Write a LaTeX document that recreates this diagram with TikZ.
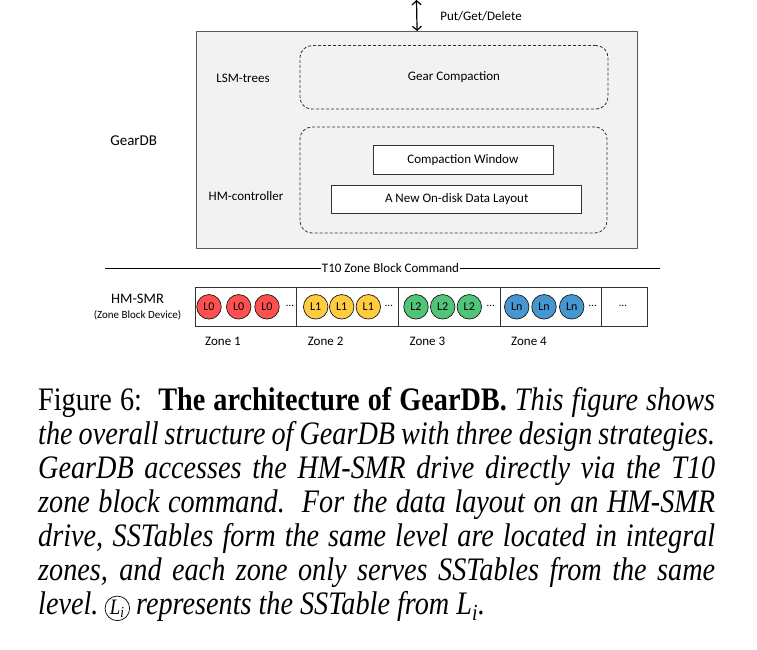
\documentclass[tikz,border=0pt]{standalone}
\usepackage{fontspec}
\setmainfont{Carlito}
\newfontfamily\capfont[FakeStretch=0.86]{Liberation Serif}
\usetikzlibrary{arrows.meta}
\definecolor{redL}{RGB}{255,80,80}
\definecolor{yelL}{RGB}{255,204,64}
\definecolor{grnL}{RGB}{80,196,120}
\definecolor{bluL}{RGB}{70,150,210}
\definecolor{gearfill}{RGB}{242,242,242}
\definecolor{edge}{RGB}{90,90,90}
\begin{document}
\begin{tikzpicture}[x=1pt,y=-1pt,
  lbl/.style={font=\fontsize{13}{15}\selectfont, inner sep=0pt},
  small/.style={font=\fontsize{11}{13}\selectfont, inner sep=0pt},
  dbox/.style={draw=black!80, dash pattern=on 3pt off 2pt, rounded corners=12pt, line width=0.8pt, inner sep=0pt, font=\fontsize{13}{15}\selectfont},
  sbox/.style={draw=black!80, line width=0.8pt, fill=white, inner sep=0pt, font=\fontsize{13}{15}\selectfont},
  zonebox/.style={draw=black!80, line width=0.9pt, fill=white, inner sep=0pt, minimum height=39pt},
  lvl/.style={circle, draw=black!90, line width=0.7pt, minimum size=24.5pt, inner sep=0pt, font=\fontsize{12}{14}\selectfont},
  captxt/.style={font=\capfont\fontsize{32.8}{34}\selectfont, inner sep=0pt, anchor=base west}]
\useasboundingbox (0,0) rectangle (757,650);

% GearDB box
\node[draw=edge, fill=gearfill, line width=1.1pt, minimum width=441pt, minimum height=217pt, inner sep=0pt, anchor=north west] (gear) at (196,31) {};
\coordinate (apitop) at (416.5,0);
\draw[{Straight Barb[length=4pt,width=9pt]}-{Straight Barb[length=4pt,width=9pt]}, line width=1.2pt] (apitop) -- (gear.north);
\node[lbl] (api) at (481,16) {Put/Get/Delete};

\node[font=\fontsize{15}{17}\selectfont, inner sep=0pt] (geardb) at (133.7,140.7) {GearDB};
\node[lbl] (lsm) at (243,78) {LSM-trees};
\node[lbl] (hmc) at (246,196.5) {HM-controller};

\node[dbox, minimum width=308pt, minimum height=63.5pt] (gc) at (454,77.3) {Gear Compaction};
\node[dbox, minimum width=307pt, minimum height=106pt] (hmbox) at (453.5,180) {};
\node[sbox, minimum width=180pt, minimum height=28.3pt] (cw) at (462.9,159.9) {Compaction Window};
\node[sbox, minimum width=250pt, minimum height=28.3pt] (layout) at (456.7,199.2) {A New On-disk Data Layout};

% T10 line
\coordinate (t10l) at (105,268);
\coordinate (t10r) at (660,268);
\node[lbl, inner xsep=1pt] (t10) at (390.5,268) {T10 Zone Block Command};
\draw[line width=0.9pt] (t10l) -- (t10.west);
\draw[line width=0.9pt] (t10.east) -- (t10r);

% HM-SMR
\node[font=\fontsize{14.5}{16}\selectfont, inner sep=0pt] (hmsmr) at (137.5,298.5) {HM-SMR};
\node[small] (zbd) at (137.5,315) {(Zone Block Device)};

% zones
\node[zonebox, minimum width=101.7pt] (z1) at (245.85,306.5) {};
\node[zonebox, minimum width=101.8pt] (z2) at (347.6,306.5) {};
\node[zonebox, minimum width=101.5pt] (z3) at (449.25,306.5) {};
\node[zonebox, minimum width=101.7pt] (z4) at (550.85,306.5) {};
\node[zonebox, minimum width=45.3pt] (z5) at (624.35,306.5) {};

\node[lvl, fill=redL] (a1) at (209,306.8) {L0};
\node[lvl, fill=redL] (a2) at (238.7,306.8) {L0};
\node[lvl, fill=redL] (a3) at (267,306.8) {L0};
\node[small] (ad) at (290,306) {\dots};
\node[lvl, fill=yelL] (b1) at (315.7,306.8) {L1};
\node[lvl, fill=yelL] (b2) at (341.7,306.8) {L1};
\node[lvl, fill=yelL] (b3) at (368.3,306.8) {L1};
\node[small] (bd) at (389,306) {\dots};
\node[lvl, fill=grnL] (c1) at (416,306.8) {L2};
\node[lvl, fill=grnL] (c2) at (442.7,306.8) {L2};
\node[lvl, fill=grnL] (c3) at (469.3,306.8) {L2};
\node[small] (cd) at (490.7,306) {\dots};
\node[lvl, fill=bluL] (d1) at (516.7,306.8) {Ln};
\node[lvl, fill=bluL] (d2) at (544,306.8) {Ln};
\node[lvl, fill=bluL] (d3) at (571.7,306.8) {Ln};
\node[small] (dd) at (592.7,306) {\dots};
\node[small] (ed) at (623,306) {\dots};

\node[lbl] (zl1) at (223,341.7) {Zone 1};
\node[lbl] (zl2) at (325.6,341.7) {Zone 2};
\node[lbl] (zl3) at (427.4,341.7) {Zone 3};
\node[lbl] (zl4) at (529,341.7) {Zone 4};

% caption
\node[captxt] (cap1) at (38,410) {\makebox[677pt][s]{Figure 6:\ \ \textbf{The architecture of GearDB.} \textit{This figure shows}}};
\node[captxt] (cap2) at (38,444) {\makebox[677pt][s]{\itshape the overall structure of GearDB with three design strategies.}};
\node[captxt] (cap3) at (38,478) {\makebox[677pt][s]{\itshape GearDB accesses the HM-SMR drive directly via the T10}};
\node[captxt] (cap4) at (38,512) {\makebox[677pt][s]{\itshape zone block command.\ \ For the data layout on an HM-SMR}};
\node[captxt] (cap5) at (38,546) {\makebox[677pt][s]{\itshape drive, SSTables form the same level are located in integral}};
\node[captxt] (cap6) at (38,580) {\makebox[677pt][s]{\itshape zones, and each zone only serves SSTables from the same}};
\node[captxt] (cap7a) at (38,614) {\itshape level.};
\node[circle, draw, line width=0.7pt, inner sep=0.6pt, anchor=base west, font=\capfont\itshape\fontsize{22}{24}\selectfont] (cap7b) at ([xshift=6pt]cap7a.base east) {L\textsubscript{i}};
\node[captxt] (cap7c) at ([xshift=6pt]cap7b.base east) {\itshape represents the SSTable from L\textsubscript{i}.};
\end{tikzpicture}
\end{document}
